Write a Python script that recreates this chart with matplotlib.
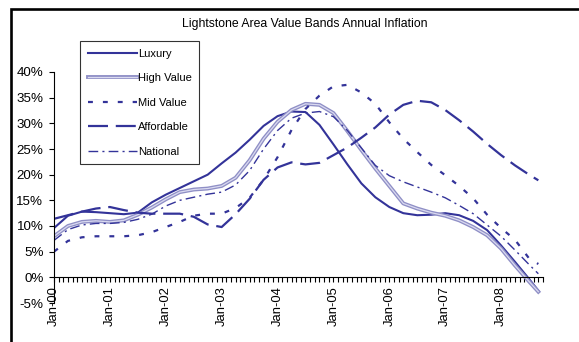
import matplotlib
matplotlib.use("Agg")
import matplotlib.pyplot as plt
from matplotlib.patches import Rectangle

plt.rcParams['font.family'] = ['Liberation Sans', 'DejaVu Sans']

# month index from Jan-00 (0) to Sep-08 (104)
months = [0, 3, 6, 9, 12, 15, 18, 21, 24, 27, 30, 33, 36, 39, 42, 45, 48, 51,
          54, 57, 60, 63, 66, 69, 72, 75, 78, 81, 84, 87, 90, 93, 96, 99, 102, 104]

luxury = [9.6, 12.0, 12.8, 12.7, 12.5, 12.3, 12.6, 14.6, 16.1, 17.4, 18.7, 20.0,
          22.2, 24.3, 26.8, 29.5, 31.4, 32.3, 32.2, 29.7, 25.9, 22.0, 18.3, 15.6,
          13.7, 12.5, 12.1, 12.2, 12.5, 12.1, 11.0, 9.2, 6.2, 3.0, -0.3, -2.6]
high_value = [8.0, 10.0, 10.8, 11.0, 10.8, 11.1, 12.2, 13.6, 15.2, 16.6, 17.1, 17.3,
              17.8, 19.4, 22.8, 27.0, 30.3, 32.6, 33.8, 33.6, 32.0, 28.5, 24.8, 21.2,
              17.8, 14.4, 13.4, 12.6, 12.0, 11.1, 9.8, 8.2, 5.6, 2.3, -0.8, -2.8]
mid_value = [5.0, 7.1, 7.8, 8.0, 8.0, 8.0, 8.2, 8.8, 9.8, 10.8, 12.0, 12.4,
             12.4, 13.5, 15.5, 19.0, 23.4, 28.7, 32.8, 35.4, 37.2, 37.5, 36.0, 33.8,
             30.2, 27.0, 24.4, 21.9, 19.9, 17.8, 15.4, 12.2, 9.6, 7.3, 3.7, 2.6]
affordable = [11.4, 12.1, 12.8, 13.4, 13.7, 13.1, 12.6, 12.4, 12.4, 12.4, 11.8, 10.3,
              9.8, 12.3, 15.3, 19.0, 21.4, 22.4, 22.0, 22.3, 23.8, 25.3, 27.2, 29.2,
              31.7, 33.6, 34.4, 34.1, 32.6, 30.6, 28.4, 26.0, 23.8, 21.8, 20.0, 18.9]
national = [7.2, 9.3, 10.2, 10.5, 10.5, 10.7, 11.3, 12.3, 13.9, 15.0, 15.6, 16.2,
            16.6, 18.0, 20.8, 25.0, 28.6, 31.0, 32.0, 32.3, 31.3, 28.6, 25.2, 21.8,
            19.8, 18.6, 17.6, 16.6, 15.5, 14.0, 12.4, 10.2, 8.0, 5.3, 2.5, 0.7]

year_ticks = [0, 12, 24, 36, 48, 60, 72, 84, 96]
year_labels = ['Jan-00', 'Jan-01', 'Jan-02', 'Jan-03', 'Jan-04',
               'Jan-05', 'Jan-06', 'Jan-07', 'Jan-08']
pct_ticks = [-5, 0, 5, 10, 15, 20, 25, 30, 35, 40]
pct_labels = ['-5%', '0%', '5%', '10%', '15%', '20%', '25%', '30%', '35%', '40%']

blue = '#333399'

fig = plt.figure(figsize=(5.79, 3.42), dpi=100)
ax = fig.add_axes([54 / 579, 1 - 303 / 342, 489 / 579, 231 / 342])

l_lux, = ax.plot(months, luxury, color=blue, lw=1.5, label='Luxury')
l_hv1, = ax.plot(months, high_value, color='#8f8fc6', lw=2.8)
l_hv2, = ax.plot(months, high_value, color='#dadaf0', lw=0.9)
l_mid, = ax.plot(months, mid_value, color=blue, lw=1.6, linestyle=(0, (2.2, 4.5)))
l_aff, = ax.plot(months, affordable, color=blue, lw=1.6, linestyle=(0, (9, 3.5)))
l_nat, = ax.plot(months, national, color=blue, lw=1.0, linestyle=(0, (7, 3, 1.5, 3)))

ax.set_xlim(0, 105)
ax.set_ylim(-5, 40)

ax.spines['top'].set_visible(False)
ax.spines['right'].set_visible(False)
ax.spines['bottom'].set_position(('data', 0))
ax.spines['left'].set_linewidth(0.8)
ax.spines['bottom'].set_linewidth(0.8)

ax.set_xticks(year_ticks)
ax.set_xticklabels(year_labels)
ax.set_xticks(range(0, 106), minor=True)
ax.tick_params(axis='x', which='both', direction='out', length=3.6, width=0.8)
ax.tick_params(axis='x', which='major', labelrotation=90, labelsize=9.4, pad=3)

ax.set_yticks(pct_ticks)
ax.set_yticklabels(pct_labels)
ax.tick_params(axis='y', direction='out', length=3.6, width=0.8, labelsize=9.6, pad=4)

leg = ax.legend([l_lux, (l_hv1, l_hv2), l_mid, l_aff, l_nat],
                ['Luxury', 'High Value', 'Mid Value', 'Affordable', 'National'],
                loc='upper left', bbox_to_anchor=(80 / 579, 1 - 41 / 342),
                bbox_transform=fig.transFigure, borderaxespad=0,
                fontsize=8, handlelength=4.4, handletextpad=0.1,
                borderpad=0.7, labelspacing=1.3, fancybox=False)
leg.get_frame().set_edgecolor('black')
leg.get_frame().set_linewidth(0.8)

fig.text(305 / 579, 1 - 24 / 342, 'Lightstone Area Value Bands Annual Inflation',
         ha='center', va='center', fontsize=8.8)

# outer chart border (only top and left edges fall inside the picture)
fig.add_artist(Rectangle((11.3 / 579, -0.5), 2, 0.5 + 1 - 8.7 / 342, fill=False,
                         lw=1.9, ec='black', transform=fig.transFigure))

fig.savefig('out.png', dpi=100)
